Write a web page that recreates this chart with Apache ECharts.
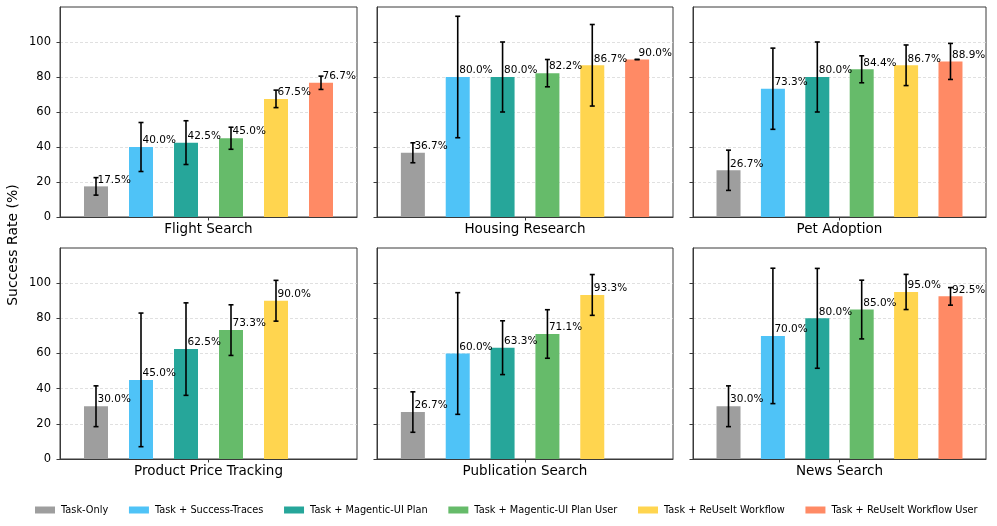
<!DOCTYPE html>
<html>
<head>
<meta charset="utf-8">
<script src="https://cdn.jsdelivr.net/npm/echarts@6/dist/echarts.min.js"></script>
<style>
html,body{margin:0;padding:0;background:#fff;}
#chart{width:997px;height:526px;}
</style>
</head>
<body>
<div id="chart"></div>
<script>
// ---- data ----
var panelNames = ['Flight Search', 'Housing Research', 'Pet Adoption', 'Product Price Tracking', 'Publication Search', 'News Search'];
var methodNames = ['Task-Only', 'Task + Success-Traces', 'Task + Magentic-UI Plan', 'Task + Magentic-UI Plan User', 'Task + ReUseIt Workflow', 'Task + ReUseIt Workflow User'];
var methodColors = ['#9E9E9E', '#4FC3F7', '#26A69A', '#66BB6A', '#FFD54F', '#FF8A65'];

var flightValues = [17.5, 40.0, 42.5, 45.0, 67.5, 76.7];
var flightErrors = [5.0, 14.0, 12.5, 6.3, 5.0, 3.8];
var housingValues = [36.7, 80.0, 80.0, 82.2, 86.7, 90.0];
var housingErrors = [5.7, 34.7, 20.0, 7.8, 23.3, 0.0];
var petValues = [26.7, 73.3, 80.0, 84.4, 86.7, 88.9];
var petErrors = [11.5, 23.2, 20.0, 7.7, 11.6, 10.3];
var productValues = [30.0, 45.0, 62.5, 73.3, 90.0, null];
var productErrors = [11.6, 38.0, 26.3, 14.4, 11.6, null];
var publicationValues = [26.7, 60.0, 63.3, 71.1, 93.3, null];
var publicationErrors = [11.5, 34.6, 15.3, 13.8, 11.6, null];
var newsValues = [30.0, 70.0, 80.0, 85.0, 95.0, 92.5];
var newsErrors = [11.6, 38.5, 28.4, 16.7, 10.0, 5.0];

var yTicks = [0, 20, 40, 60, 80, 100];
var yLabel = 'Success Rate (%)';

var panelValues = [flightValues, housingValues, petValues, productValues, publicationValues, newsValues];
var panelErrors = [flightErrors, housingErrors, petErrors, productErrors, publicationErrors, newsErrors];

// ---- layout ----
var FONT = 'DejaVu Sans';
var gridRects = [
  {left: 60, top: 7, width: 297, height: 210},
  {left: 377, top: 7, width: 296, height: 210},
  {left: 693, top: 7, width: 293, height: 210},
  {left: 60, top: 248, width: 297, height: 211},
  {left: 377, top: 248, width: 296, height: 211},
  {left: 693, top: 248, width: 293, height: 211}
];

var grids = [], xAxes = [], yAxes = [], series = [];
gridRects.forEach(function (r, p) {
  grids.push({left: r.left, top: r.top, width: r.width, height: r.height,
    show: true, borderColor: '#3a3a3a', borderWidth: 1, backgroundColor: 'transparent'});
  xAxes.push({
    type: 'value', gridIndex: p, min: -0.8, max: 5.8,
    name: panelNames[p], nameLocation: 'middle', nameGap: 5,
    nameTextStyle: {fontFamily: FONT, fontSize: 13.5, color: '#000', verticalAlign: 'top'},
    axisLine: {show: true, onZero: false, lineStyle: {color: '#3a3a3a', width: 1}},
    axisTick: {show: true, length: 3.5, customValues: [2.5], lineStyle: {color: '#3a3a3a'}},
    axisLabel: {show: false},
    splitLine: {show: false}
  });
  var showLabels = (p % 3 === 0);
  yAxes.push({
    type: 'value', gridIndex: p, min: 0, max: 120, interval: 20,
    axisLine: {show: true, onZero: false, lineStyle: {color: '#3a3a3a', width: 1}},
    axisTick: {show: true, length: 3.5, customValues: yTicks, lineStyle: {color: '#3a3a3a'}},
    axisLabel: {show: showLabels, customValues: yTicks, margin: 9,
      fontFamily: FONT, fontSize: 11.5, color: '#000',
      formatter: function (v) { return v > 100 ? '' : String(v); }},
    splitLine: {show: true, lineStyle: {color: '#d8d8d8', type: [3, 2], width: 0.8}}
  });

  var vals = panelValues[p], errs = panelErrors[p];
  methodNames.forEach(function (m, i) {
    series.push({
      type: 'bar', name: m, xAxisIndex: p, yAxisIndex: p,
      barWidth: 24, barGap: '-100%',
      itemStyle: {color: methodColors[i]},
      data: vals[i] == null ? [] : [[i, vals[i]]],
      silent: true, animation: false
    });
  });

  var errData = [];
  vals.forEach(function (v, i) { if (v != null) errData.push([i, v, errs[i]]); });
  series.push({
    type: 'custom', xAxisIndex: p, yAxisIndex: p, silent: true, animation: false, z: 5,
    data: errData,
    renderItem: function (params, api) {
      var x = api.value(0), v = api.value(1), e = api.value(2);
      var hi = api.coord([x, v + e]);
      var lo = api.coord([x, v - e]);
      var top = api.coord([x, v]);
      var cap = 2.5;
      var ls = {stroke: '#000', lineWidth: 1.6};
      return {type: 'group', children: [
        {type: 'line', shape: {x1: hi[0], y1: hi[1], x2: lo[0], y2: lo[1]}, style: ls},
        {type: 'line', shape: {x1: hi[0] - cap, y1: hi[1], x2: hi[0] + cap, y2: hi[1]}, style: ls},
        {type: 'line', shape: {x1: lo[0] - cap, y1: lo[1], x2: lo[0] + cap, y2: lo[1]}, style: ls},
        {type: 'text', z2: 10, x: top[0] + 1.5, y: top[1] - 6.5,
          style: {text: v.toFixed(1) + '%', fill: '#000', font: '10.5px "' + FONT + '"',
            align: 'left', verticalAlign: 'middle'}}
      ]};
    }
  });
});

var chart = echarts.init(document.getElementById('chart'), null, {renderer: 'canvas'});
chart.setOption({
  animation: false,
  backgroundColor: '#fff',
  textStyle: {fontFamily: FONT},
  grid: grids,
  xAxis: xAxes,
  yAxis: yAxes,
  legend: {
    data: methodNames.map(function (m) { return {name: m, icon: 'rect'}; }),
    left: 35, top: 505, itemWidth: 20, itemHeight: 7, itemGap: 20.7, padding: 0,
    textStyle: {fontFamily: FONT, fontSize: 9.78, color: '#000', padding: [0, 0, 0, 1]},
    selectedMode: false
  },
  graphic: [{
    type: 'text', x: 13.5, y: 245, rotation: Math.PI / 2,
    style: {text: yLabel, fill: '#000', font: '14px "' + FONT + '"', align: 'center', verticalAlign: 'middle'}
  }],
  series: series
});
</script>
</body>
</html>
